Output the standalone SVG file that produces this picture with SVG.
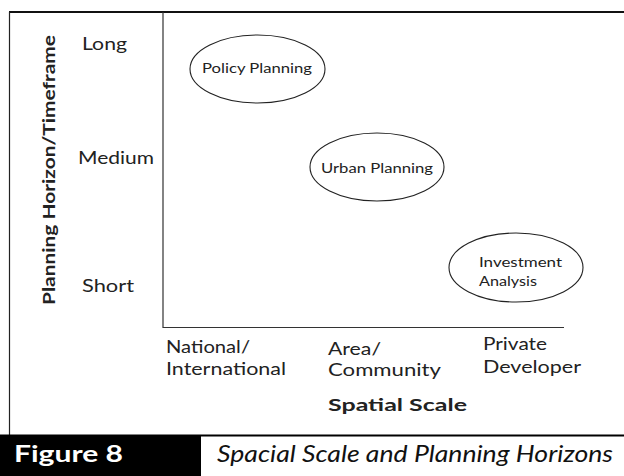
<svg xmlns="http://www.w3.org/2000/svg" width="624" height="476" viewBox="0 0 624 476">
<style>
text{font-family:Lato,"Liberation Sans",sans-serif;fill:#222;}
.tick{font-size:17px;}
.bold{font-weight:bold;font-size:17px;}
.node{font-size:14px;}
ellipse{fill:none;stroke:#222;stroke-width:1.1;}
.axis{stroke:#333;stroke-width:1.2;fill:none;}
</style>
<rect x="0" y="0" width="624" height="476" fill="#fff"/>
<g id="frame">
<line x1="9" y1="12" x2="624" y2="12" stroke="#111" stroke-width="2"/>
<line x1="9.5" y1="12" x2="9.5" y2="436" stroke="#222" stroke-width="1.2"/>
<line x1="0" y1="435.5" x2="624" y2="435.5" stroke="#000" stroke-width="2"/>
<rect x="0" y="435" width="201" height="41" fill="#000"/>
<text x="14" y="462" style="font-size:22px;font-weight:bold;fill:#fff" textLength="109" lengthAdjust="spacingAndGlyphs">Figure 8</text>
<text x="217" y="462" style="font-size:23px;font-style:italic;fill:#111" textLength="396" lengthAdjust="spacingAndGlyphs">Spacial Scale and Planning Horizons</text>
</g>
<g id="axes">
<polyline class="axis" points="163,12 163,327.5 564,327.5"/>
</g>
<g id="y-labels">
<text class="bold" transform="translate(55,170) rotate(-90)" text-anchor="middle" textLength="270" lengthAdjust="spacingAndGlyphs">Planning Horizon/Timeframe</text>
<text class="tick" x="82" y="49.5" textLength="45" lengthAdjust="spacingAndGlyphs">Long</text>
<text class="tick" x="78" y="164" textLength="76" lengthAdjust="spacingAndGlyphs">Medium</text>
<text class="tick" x="82" y="291.5" textLength="52" lengthAdjust="spacingAndGlyphs">Short</text>
</g>
<g id="x-labels">
<text class="tick" x="166" y="353" textLength="84" lengthAdjust="spacingAndGlyphs">National/</text>
<text class="tick" x="166" y="375" textLength="120" lengthAdjust="spacingAndGlyphs">International</text>
<text class="tick" x="328" y="355" textLength="53" lengthAdjust="spacingAndGlyphs">Area/</text>
<text class="tick" x="328" y="376" textLength="113" lengthAdjust="spacingAndGlyphs">Community</text>
<text class="tick" x="483" y="350" textLength="64" lengthAdjust="spacingAndGlyphs">Private</text>
<text class="tick" x="483" y="373" textLength="98" lengthAdjust="spacingAndGlyphs">Developer</text>
<text class="bold" x="328" y="411" textLength="139" lengthAdjust="spacingAndGlyphs">Spatial Scale</text>
</g>
<g id="policy-planning">
<ellipse cx="257.5" cy="69" rx="67.5" ry="34"/>
<text class="node" x="202" y="73" textLength="110" lengthAdjust="spacingAndGlyphs">Policy Planning</text>
</g>
<g id="urban-planning">
<ellipse cx="377" cy="167" rx="67" ry="34"/>
<text class="node" x="321" y="173" textLength="112" lengthAdjust="spacingAndGlyphs">Urban Planning</text>
</g>
<g id="investment-analysis">
<ellipse cx="516" cy="267.5" rx="67" ry="34.5"/>
<text class="node" x="479" y="267" textLength="83" lengthAdjust="spacingAndGlyphs">Investment</text>
<text class="node" x="479" y="286" textLength="58" lengthAdjust="spacingAndGlyphs">Analysis</text>
</g>
<g id="connectors"></g>
</svg>
